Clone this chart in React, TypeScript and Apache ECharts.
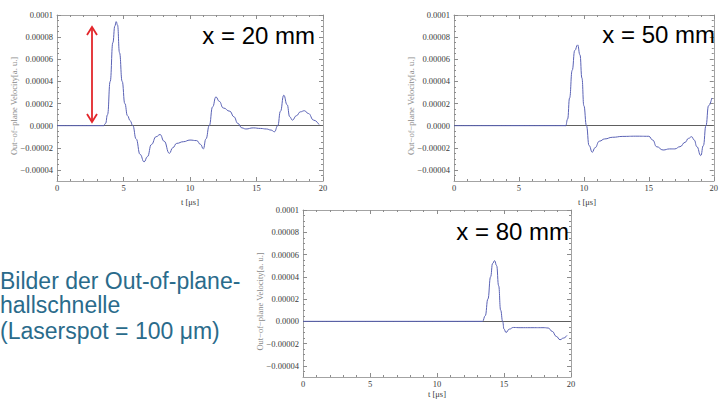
import React, { useEffect, useRef } from "react";
import * as echarts from "echarts";

// ---- data (velocity in a.u., time in µs) ----
const t20 = [0, 3.5, 3.65, 3.8, 4.0, 4.2, 4.35, 4.45, 4.55, 4.7, 4.9, 5.1, 5.3, 5.5, 5.7, 5.95, 6.25, 6.55, 6.8, 7.1, 7.45, 7.75, 8.05, 8.45, 8.7, 9.0, 9.5, 10.0, 10.5, 10.8, 11.0, 11.2, 11.45, 11.7, 11.95, 12.2, 12.5, 13.0, 13.3, 13.6, 13.9, 14.2, 14.75, 15.3, 15.75, 16.1, 16.35, 16.6, 16.8, 17.05, 17.3, 17.5, 17.7, 18.0, 18.3, 18.6, 18.9, 19.3, 19.7];
const v20 = [0, 0, 0.2e-5, 1.0e-5, 4.0e-5, 7.5e-5, 9.0e-5, 9.4e-5, 9.1e-5, 6.6e-5, 4.0e-5, 2.0e-5, 0.9e-5, 0.45e-5, 0, -1.2e-5, -2.6e-5, -3.27e-5, -2.8e-5, -1.7e-5, -1.0e-5, -0.8e-5, -1.4e-5, -2.5e-5, -2.0e-5, -1.6e-5, -1.45e-5, -1.3e-5, -1.35e-5, -1.7e-5, -2.1e-5, -1.2e-5, 0, 1.7e-5, 2.6e-5, 2.2e-5, 1.6e-5, 1.3e-5, 0.8e-5, 0.2e-5, -0.2e-5, -0.3e-5, -0.2e-5, -0.25e-5, -0.3e-5, -0.4e-5, -0.55e-5, 0, 1.3e-5, 2.75e-5, 1.9e-5, 0.8e-5, 0.5e-5, 0.9e-5, 1.25e-5, 1.35e-5, 1.1e-5, 0.5e-5, 0.1e-5];

const t50 = [0, 8.6, 8.75, 8.9, 9.1, 9.3, 9.52, 9.7, 9.85, 10.0, 10.2, 10.4, 10.65, 10.85, 11.2, 11.6, 12.2, 13.0, 14.0, 15.0, 15.3, 15.6, 16.1, 16.6, 17.0, 17.4, 17.8, 18.05, 18.3, 18.5, 18.7, 19.0, 19.2, 19.4, 19.6, 19.85];
const v50 = [0, 0, 0.6e-5, 2.5e-5, 5.0e-5, 6.8e-5, 7.3e-5, 6.4e-5, 4.3e-5, 1.8e-5, 0, -1.8e-5, -2.4e-5, -2.0e-5, -1.4e-5, -1.2e-5, -1.05e-5, -0.97e-5, -0.95e-5, -0.96e-5, -1.3e-5, -1.9e-5, -2.2e-5, -2.1e-5, -2.1e-5, -1.9e-5, -1.5e-5, -1.15e-5, -1.0e-5, -1.3e-5, -1.9e-5, -2.7e-5, -1.8e-5, 0, 1.8e-5, 2.5e-5];

const t80 = [0, 13.4, 13.6, 13.8, 14.0, 14.15, 14.3, 14.45, 14.6, 14.75, 14.9, 15.0, 15.15, 15.4, 15.7, 16.2, 17.0, 18.0, 18.3, 18.6, 18.9, 19.18, 19.45, 19.7];
const v80 = [0, 0, 0.5e-5, 2.0e-5, 4.0e-5, 5.2e-5, 5.45e-5, 5.0e-5, 3.2e-5, 1.0e-5, 0, -0.7e-5, -1.0e-5, -0.7e-5, -0.55e-5, -0.57e-5, -0.57e-5, -0.57e-5, -0.6e-5, -0.9e-5, -1.35e-5, -1.65e-5, -1.5e-5, -1.26e-5];

const panelTitles = ["x = 20 mm", "x = 50 mm", "x = 80 mm"];
const xTickLabels = ["0", "5", "10", "15", "20"];
const yTickValues = [-4e-5, -2e-5, 0, 2e-5, 4e-5, 6e-5, 8e-5, 1e-4];
const yTickLabels = ["−0.00004", "−0.00002", "0.0000", "0.00002", "0.00004", "0.00006", "0.00008", "0.0001"];
const xAxisTitle = "t [μs]";
const yAxisTitle = "Out−of−plane Velocity[a. u.]";
const sideText = ["Bilder der Out-of-plane-", "hallschnelle", "(Laserspot = 100 μm)"];

const series = [
  { t: t20, v: v20 },
  { t: t50, v: v50 },
  { t: t80, v: v80 },
];

// ---- layout ----
const grids = [
  { left: 57, top: 15, width: 266, height: 166 },
  { left: 454, top: 15, width: 266, height: 166 },
  { left: 303, top: 210, width: 268, height: 167 },
];
const xTitleOffset = [21, 21, 17];

const SERIF = "'Liberation Serif', 'DejaVu Serif', serif";
const SANS = "'Liberation Sans', Arial, sans-serif";
const FRAME = "#a3a3a3";
const TICK = "#8c8c8c";
const LABEL = "#3a3a3a";

function minorY(): number[] {
  const out: number[] = [];
  for (let k = -9; k < 20; k++) {
    if (k % 4 === 0) continue;
    out.push(k * 0.5e-5);
  }
  return out;
}

function yFmt(val: number) {
  const i = yTickValues.findIndex((x) => Math.abs(x - val) < 1e-10);
  return i >= 0 ? yTickLabels[i] : "";
}

export default function App() {
  const ref = useRef<HTMLDivElement>(null);
  useEffect(() => {
    if (!ref.current) return;
    const chart = echarts.init(ref.current, undefined, { renderer: "svg" });
    const minors = minorY();
    const xAxes: any[] = [];
    const yAxes: any[] = [];
    const ser: any[] = [];
    grids.forEach((g, gi) => {
      ["bottom", "top"].forEach((pos, k) => {
        xAxes.push({
          type: "value",
          gridIndex: gi,
          position: pos,
          min: 0,
          max: 20,
          interval: 5,
          axisLine: { show: true, onZero: false, lineStyle: { color: FRAME, width: 1 } },
          axisTick: { show: true, inside: true, length: 4, lineStyle: { color: TICK } },
          minorTick: { show: true, splitNumber: 5, length: 2, lineStyle: { color: TICK } },
          axisLabel: {
            show: k === 0,
            margin: 2,
            color: LABEL,
            fontFamily: SERIF,
            fontSize: 8.5,
            formatter: (v: number) => xTickLabels[Math.round(v / 5)] ?? "",
          },
          splitLine: { show: false },
        });
      });
      ["left", "right"].forEach((pos, k) => {
        yAxes.push({
          type: "value",
          gridIndex: gi,
          position: pos,
          min: -5e-5,
          max: 1e-4,
          axisLine: { show: true, onZero: false, lineStyle: { color: FRAME, width: 1 } },
          axisTick: { show: true, inside: true, length: 4, customValues: yTickValues, lineStyle: { color: TICK } },
          axisLabel: {
            show: k === 0,
            customValues: yTickValues,
            margin: 4,
            color: LABEL,
            fontFamily: SERIF,
            fontSize: 8.5,
            formatter: yFmt,
          },
          splitLine: { show: false },
        });
        yAxes.push({
          type: "value",
          gridIndex: gi,
          position: pos,
          min: -5e-5,
          max: 1e-4,
          axisLine: { show: false, onZero: false },
          axisTick: { show: true, inside: true, length: 2, customValues: minors, lineStyle: { color: TICK } },
          axisLabel: { show: false },
          splitLine: { show: false },
        });
      });
      const s = series[gi];
      ser.push({
        type: "line",
        xAxisIndex: gi * 2,
        yAxisIndex: gi * 4,
        data: s.t.map((t, i) => [t, s.v[i]]),
        showSymbol: false,
        smooth: 0.5,
        smoothMonotone: "x",
        lineStyle: { color: "#5a62b5", width: 1 },
        z: 3,
        markLine: {
          silent: true,
          symbol: "none",
          label: { show: false },
          lineStyle: { color: "#5e5e5e", width: 1, type: "solid" },
          data: [{ yAxis: 0 }],
          z: 2,
        },
      });
    });

    const graphic: any[] = [];
    const titlePos = [
      { x: 315, y: 47 },
      { x: 715, y: 46 },
      { x: 569, y: 243 },
    ];
    grids.forEach((g, gi) => {
      graphic.push({
        type: "text",
        x: titlePos[gi].x,
        y: titlePos[gi].y,
        style: {
          text: panelTitles[gi],
          fill: "#000",
          font: `24px ${SANS}`,
          textAlign: "right",
          textVerticalAlign: "bottom",
        },
        z: 10,
      });
      graphic.push({
        type: "text",
        x: g.left + g.width / 2,
        y: g.top + g.height + xTitleOffset[gi],
        style: {
          text: xAxisTitle,
          fill: LABEL,
          font: `8.5px ${SERIF}`,
          textAlign: "center",
          textVerticalAlign: "middle",
        },
      });
      graphic.push({
        type: "text",
        x: g.left - 43,
        y: g.top + g.height / 2 + 8,
        rotation: Math.PI / 2,
        style: {
          text: yAxisTitle,
          fill: "#8a8a8a",
          font: `8.5px ${SERIF}`,
          textAlign: "center",
          textVerticalAlign: "middle",
        },
      });
    });
    // red double arrow (amplitude marker)
    const red = { stroke: "#e3262b", lineWidth: 1.8, fill: null };
    graphic.push({ type: "line", shape: { x1: 92, y1: 27, x2: 92, y2: 122 }, style: red, z: 11 });
    graphic.push({ type: "polyline", shape: { points: [[87, 35], [92, 27], [97, 35]] }, style: red, z: 11 });
    graphic.push({ type: "polyline", shape: { points: [[87, 114], [92, 122], [97, 114]] }, style: red, z: 11 });
    // side text
    const sidePos = [
      { x: 0, y: 292 },
      { x: 0, y: 316 },
      { x: 0, y: 342 },
    ];
    sideText.forEach((s, i) => {
      graphic.push({
        type: "text",
        x: sidePos[i].x,
        y: sidePos[i].y,
        style: {
          text: s,
          fill: "#2a6b8b",
          font: `23px ${SANS}`,
          textAlign: "left",
          textVerticalAlign: "bottom",
        },
      });
    });

    chart.setOption({
      animation: false,
      backgroundColor: "#ffffff",
      grid: grids.map((g) => ({ ...g, containLabel: false })),
      xAxis: xAxes,
      yAxis: yAxes,
      series: ser,
      graphic,
    });
    return () => chart.dispose();
  }, []);
  return (
    <div
      ref={ref}
      style={{ position: "fixed", left: 0, top: 0, width: 721, height: 401 }}
    />
  );
}
